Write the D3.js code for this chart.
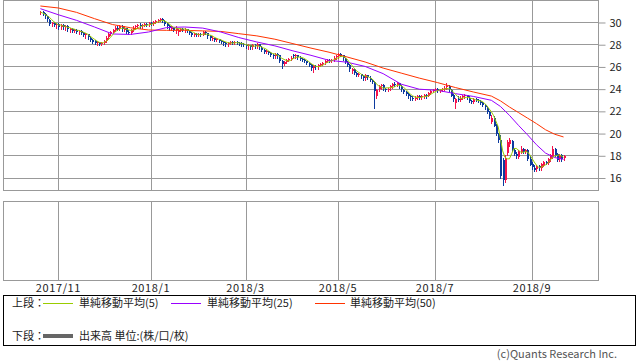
<!DOCTYPE html>
<html lang="ja">
<head>
<meta charset="utf-8">
<script src="https://cdn.jsdelivr.net/npm/d3@7"></script>
<style>
  body { margin: 0; background: #ffffff; }
  #contenedorGrafica { width: 638px; height: 362px; }
  text { font-family: "Noto Sans CJK JP", "Noto Sans", sans-serif; }
</style>
</head>
<body>
<div id="contenedorGrafica"></div>
<script>
// valores (un valor por sesion)
const aperturas = [
    30.8,30.9,30.7,30.5,30.2,29.8,29.9,29.7,29.8,29.5,
    29.7,29.5,29.6,29.3,29.4,29.2,29.3,29.1,29.2,29.0,
    28.8,28.9,28.6,28.4,28.3,28.1,28.2,28.0,28.1,28.3,
    28.6,28.9,29.1,29.3,29.5,29.4,29.6,29.3,29.5,29.1,
    29.0,29.3,29.5,29.6,29.7,29.6,29.7,29.8,29.7,29.9,
    29.8,30.0,30.1,30.2,30.3,30.1,29.8,29.6,29.4,29.5,
    29.3,29.1,29.3,29.4,29.3,29.4,29.2,29.0,28.8,28.9,
    28.8,28.9,28.8,29.1,29.0,28.7,28.5,28.6,28.4,28.5,
    28.3,28.2,28.1,28.0,28.1,28.2,28.1,28.2,28.1,28.1,
    28.0,27.9,27.8,27.9,27.7,27.9,27.8,28.0,27.7,27.5,
    27.3,27.4,27.2,27.0,26.9,27.1,27.0,26.5,26.2,26.4,
    26.6,26.7,27.0,26.9,27.0,26.8,26.7,26.6,26.5,26.3,
    26.1,25.8,26.0,25.9,26.1,26.2,26.3,26.5,26.6,26.5,
    26.6,26.8,26.9,27.1,27.0,26.7,26.4,26.1,25.6,25.8,
    25.4,25.2,25.3,25.1,24.9,25.2,25.0,24.8,24.6,23.4,
    23.9,24.2,24.3,24.0,23.9,24.0,24.2,24.4,24.3,24.5,
    24.2,23.9,23.7,23.5,23.3,23.2,23.1,23.2,23.3,23.2,
    23.3,23.4,23.3,23.6,23.8,23.9,24.0,23.8,23.9,24.0,
    24.1,24.2,23.9,23.4,22.7,23.1,23.0,23.2,23.3,23.4,
    23.2,22.9,22.8,23.1,23.0,22.9,22.7,22.5,22.3,21.9,
    21.0,21.4,20.7,19.9,19.4,17.6,15.8,18.2,19.0,19.3,
    18.5,18.1,17.9,18.3,18.6,18.3,18.5,17.7,17.2,16.9,
    16.7,17.0,16.8,17.1,17.4,17.3,17.6,17.9,18.6,18.1,
    17.6,18.0,17.7
];
const maximos = [
    31.0,31.0,30.8,30.5,30.3,30.0,30.0,29.9,29.9,29.8,
    29.8,29.7,29.7,29.5,29.5,29.4,29.4,29.3,29.3,29.1,
    29.0,28.9,28.7,28.5,28.4,28.3,28.2,28.2,28.4,28.7,
    29.0,29.2,29.4,29.6,29.6,29.7,29.7,29.6,29.5,29.3,
    29.4,29.6,29.7,29.8,29.9,29.8,29.9,29.9,30.0,30.0,
    30.1,30.2,30.3,30.4,30.4,30.2,29.9,29.7,29.6,29.5,
    29.6,29.4,29.5,29.5,29.5,29.4,29.3,29.1,29.0,29.0,
    29.0,29.0,29.2,29.2,29.0,28.8,28.7,28.6,28.6,28.5,
    28.4,28.3,28.2,28.2,28.3,28.3,28.3,28.3,28.2,28.2,
    28.1,28.0,28.0,27.9,28.0,28.0,28.1,28.0,27.8,27.6,
    27.5,27.4,27.3,27.1,27.2,27.2,27.0,26.6,26.5,26.7,
    26.8,26.9,27.1,27.1,27.0,26.9,26.8,26.7,26.5,26.4,
    26.2,26.1,26.1,26.2,26.3,26.4,26.6,26.7,26.7,26.7,
    26.9,27.0,27.2,27.2,27.0,26.8,26.5,26.2,25.9,25.8,
    25.5,25.4,25.3,25.2,25.3,25.2,25.1,24.9,24.7,24.0,
    24.3,24.4,24.4,24.1,24.1,24.3,24.5,24.6,24.6,24.5,
    24.3,24.0,23.8,23.6,23.4,23.3,23.3,23.4,23.4,23.4,
    23.5,23.5,23.7,23.9,24.0,24.1,24.1,24.0,24.1,24.2,
    24.5,24.3,24.0,23.5,23.2,23.3,23.3,23.4,23.5,23.4,
    23.3,23.0,23.2,23.2,23.1,23.0,22.8,22.6,22.4,22.0,
    21.6,21.5,20.8,20.0,19.8,17.8,18.0,19.4,19.6,19.4,
    18.7,18.3,18.5,18.8,18.7,18.6,18.6,17.9,17.4,17.1,
    17.1,17.1,17.3,17.5,17.5,17.8,18.1,18.8,18.7,18.2,
    18.1,18.1,18.0
];
const minimos = [
    30.7,30.6,30.4,30.1,29.7,29.6,29.6,29.5,29.4,29.4,
    29.4,29.3,29.2,29.1,29.1,29.1,29.0,28.9,28.9,28.7,
    28.6,28.5,28.3,28.1,28.0,27.9,27.9,27.9,28.0,28.2,
    28.5,28.8,29.0,29.2,29.3,29.3,29.2,29.2,29.0,28.9,
    28.9,29.2,29.4,29.5,29.5,29.5,29.6,29.6,29.6,29.7,
    29.7,29.9,30.0,30.1,30.0,29.7,29.5,29.3,29.3,29.2,
    29.0,28.8,29.2,29.2,29.1,29.1,28.9,28.7,28.7,28.7,
    28.7,28.7,28.8,28.9,28.6,28.4,28.4,28.3,28.3,28.2,
    28.1,27.9,27.8,27.8,28.0,28.0,28.0,28.0,27.9,27.8,
    27.8,27.7,27.6,27.6,27.6,27.7,27.7,27.6,27.4,27.2,
    27.2,27.1,26.9,26.8,26.8,26.8,26.4,25.9,26.1,26.3,
    26.5,26.6,26.8,26.8,26.7,26.6,26.5,26.4,26.2,26.0,
    25.7,25.5,25.8,25.8,26.0,26.1,26.2,26.4,26.4,26.4,
    26.5,26.7,26.8,26.9,26.6,26.3,26.0,25.6,25.4,25.3,
    25.1,25.1,25.0,24.8,24.8,24.9,24.7,24.5,22.3,23.2,
    23.8,24.0,23.9,23.8,23.8,23.9,24.1,24.2,24.2,24.1,
    23.8,23.6,23.4,23.2,23.0,23.0,23.0,23.1,23.1,23.1,
    23.2,23.2,23.3,23.5,23.7,23.8,23.7,23.7,23.8,23.9,
    24.0,23.8,23.3,22.9,22.3,22.9,22.9,23.1,23.2,23.1,
    22.8,22.7,22.7,22.9,22.8,22.6,22.4,22.2,21.8,21.4,
    20.9,20.6,19.8,19.2,16.0,15.3,15.6,18.0,18.8,18.4,
    18.0,17.8,17.8,18.2,18.2,18.2,17.6,17.1,16.8,16.6,
    16.6,16.7,16.7,17.0,17.2,17.2,17.5,17.8,17.9,17.5,
    17.5,17.5,17.6
];
const cierres = [
    30.9,30.7,30.5,30.2,29.8,29.9,29.7,29.8,29.5,29.7,
    29.5,29.6,29.3,29.4,29.2,29.3,29.1,29.2,29.0,28.8,
    28.9,28.6,28.4,28.2,28.1,28.2,28.0,28.1,28.3,28.6,
    28.9,29.1,29.3,29.5,29.4,29.6,29.3,29.5,29.1,29.0,
    29.3,29.5,29.6,29.7,29.6,29.7,29.8,29.7,29.9,29.8,
    30.0,30.1,30.2,30.3,30.1,29.8,29.6,29.4,29.5,29.3,
    29.5,29.3,29.4,29.3,29.4,29.2,29.0,28.8,28.9,28.8,
    28.9,28.8,29.1,29.0,28.7,28.5,28.6,28.4,28.5,28.3,
    28.2,28.1,28.0,28.1,28.2,28.1,28.2,28.1,28.0,28.0,
    27.9,27.8,27.9,27.7,27.9,27.8,28.0,27.7,27.5,27.3,
    27.4,27.2,27.0,26.9,27.1,27.0,26.5,26.2,26.4,26.6,
    26.7,26.8,26.9,27.0,26.8,26.7,26.6,26.5,26.3,26.1,
    25.8,26.0,25.9,26.1,26.2,26.3,26.5,26.6,26.5,26.6,
    26.8,26.9,27.1,27.0,26.7,26.4,26.1,25.7,25.8,25.4,
    25.2,25.3,25.1,24.9,25.2,25.0,24.8,24.6,23.8,23.9,
    24.2,24.3,24.0,23.9,24.0,24.2,24.4,24.3,24.5,24.2,
    23.9,23.7,23.5,23.3,23.2,23.1,23.2,23.3,23.2,23.3,
    23.4,23.3,23.6,23.8,23.9,24.0,23.8,23.9,24.0,24.1,
    24.2,23.9,23.4,23.0,23.1,23.0,23.2,23.3,23.4,23.2,
    22.9,22.8,23.1,23.0,22.9,22.7,22.5,22.3,21.9,21.5,
    21.4,20.7,19.9,19.4,16.2,15.8,17.8,19.2,19.4,18.5,
    18.1,17.9,18.4,18.6,18.3,18.5,17.7,17.2,16.9,16.7,
    17.0,16.8,17.2,17.4,17.3,17.7,18.0,18.6,18.0,17.6,
    18.0,17.6,17.9
];

// medias de 25 y 50 sesiones (vienen de datos anteriores al inicio)
const diasMedia = [0, 8, 16, 24, 32, 40, 48, 56, 64, 72, 80, 88, 96, 104, 112, 120, 128, 136,
    144, 152, 160, 168, 176, 184, 192, 200, 204, 208, 212, 216, 220, 224, 228, 232];
const media25 = [31.2, 30.65, 30.15, 29.55, 28.92, 28.88, 29.1, 29.5, 29.55, 29.45, 29.1, 28.6,
    28.2, 27.85, 27.4, 27.0, 26.55, 26.38, 26.0, 25.35, 24.4, 23.95, 23.85, 23.55, 23.3, 22.95,
    22.4, 21.6, 20.7, 19.85, 18.95, 18.2, 17.8, 17.63];
const media50 = [31.44, 31.26, 30.87, 30.3, 29.77, 29.48, 29.28, 29.25, 29.25, 29.2, 29.15, 28.95,
    28.75, 28.45, 28.05, 27.65, 27.28, 26.85, 26.4, 25.85, 25.4, 24.95, 24.55, 24.1, 23.7, 23.33,
    22.9, 22.35, 21.85, 21.35, 20.85, 20.3, 19.9, 19.65];

const diasMes = [8, 49, 91, 132, 175, 218];
const etiquetasMes = ["2017/11", "2018/1", "2018/3", "2018/5", "2018/7", "2018/9"];
const preciosEje = [16, 18, 20, 22, 24, 26, 28, 30];

const grafica = () => {
    const ancho = 638, alto = 362;
    const izquierda = 3, derecha = 598;
    const arribaSup = 0, abajoSup = 190;
    const arribaInf = 201, abajoInf = 280;
    const paso = 2.255, primerCentro = 40.38;
    const gris = "#999999";
    const rojo = "#f5124c", azul = "#0c3a9e";
    const verde = "#99cc00", morado = "#9900ff", naranja = "#ff3300";
    const nitido = v => Math.round(v) + 0.5;

    const $svg = d3.select("#contenedorGrafica")
        .append("svg")
        .attr("width", ancho)
        .attr("height", alto);

    const dias = d3.range(cierres.length);
    const x = d3.scaleBand()
        .domain(dias)
        .range([primerCentro - paso / 2, primerCentro - paso / 2 + paso * dias.length]);
    const centro = i => x(i) + x.bandwidth() / 2;

    const y = d3.scaleLinear()
        .domain([14.875, 31.98])
        .range([abajoSup, arribaSup]);

    // rejilla del panel superior
    $svg.append("g")
        .selectAll("line")
        .data(preciosEje)
        .join("line")
        .attr("x1", izquierda).attr("x2", derecha)
        .attr("y1", d => nitido(y(d))).attr("y2", d => nitido(y(d)))
        .attr("stroke", gris);

    [[arribaSup, abajoSup], [arribaInf, abajoInf]].forEach(([a, b]) => {
        $svg.append("g")
            .selectAll("line")
            .data(diasMes)
            .join("line")
            .attr("x1", d => nitido(centro(d))).attr("x2", d => nitido(centro(d)))
            .attr("y1", a).attr("y2", b)
            .attr("stroke", gris);
        $svg.append("rect")
            .attr("x", izquierda + 0.5).attr("y", a + 0.5)
            .attr("width", derecha - izquierda).attr("height", b - a)
            .attr("fill", "none")
            .attr("stroke", gris);
    });

    // eje de precios a la derecha
    $svg.append("g")
        .attr("transform", `translate(${derecha + 0.5},0.5)`)
        .call(d3.axisRight(y).tickValues(preciosEje).tickSize(7).tickPadding(4))
        .call(g => g.select(".domain").remove())
        .call(g => g.selectAll(".tick line").attr("stroke", gris))
        .call(g => g.selectAll(".tick text")
            .attr("fill", "#222")
            .attr("font-size", 11)
            .attr("font-family", "Noto Sans CJK JP"));

    // velas
    const velas = $svg.append("g").attr("shape-rendering", "crispEdges");
    velas.selectAll("line")
        .data(dias)
        .join("line")
        .attr("x1", i => nitido(centro(i))).attr("x2", i => nitido(centro(i)))
        .attr("y1", i => Math.round(y(maximos[i]))).attr("y2", i => Math.round(y(minimos[i])) + 1)
        .attr("stroke", i => cierres[i] >= aperturas[i] ? rojo : azul);
    velas.selectAll("rect")
        .data(dias)
        .join("rect")
        .attr("x", i => Math.round(centro(i)))
        .attr("width", 2)
        .attr("y", i => Math.round(y(Math.max(aperturas[i], cierres[i]))))
        .attr("height", i => Math.max(1, Math.round(Math.abs(y(aperturas[i]) - y(cierres[i])))))
        .attr("fill", i => cierres[i] >= aperturas[i] ? rojo : azul);

    // medias moviles
    const media5 = cierres.map((c, i) => d3.mean(cierres.slice(Math.max(0, i - 4), i + 1)));
    const linea = d3.line().x(d => centro(d[0])).y(d => y(d[1]));

    $svg.append("path")
        .attr("d", linea(diasMedia.map((d, k) => [d, media50[k]])))
        .attr("fill", "none").attr("stroke", naranja).attr("stroke-width", 1);
    $svg.append("path")
        .attr("d", linea(diasMedia.map((d, k) => [d, media25[k]])))
        .attr("fill", "none").attr("stroke", morado).attr("stroke-width", 1);
    $svg.append("path")
        .attr("d", linea(dias.map(i => [i, media5[i]])))
        .attr("fill", "none").attr("stroke", verde).attr("stroke-width", 1);

    // etiquetas de meses
    $svg.append("g")
        .selectAll("text")
        .data(diasMes)
        .join("text")
        .attr("x", d => centro(d))
        .attr("y", 292)
        .attr("text-anchor", "middle")
        .attr("font-size", 11)
        .attr("letter-spacing", 0.6)
        .attr("fill", "#222")
        .text((d, k) => etiquetasMes[k]);

    // leyenda
    $svg.append("rect")
        .attr("x", izquierda + 0.5).attr("y", 295.5)
        .attr("width", 632).attr("height", 50)
        .attr("fill", "none")
        .attr("stroke", "#000");

    const textoLeyenda = (tx, ty, texto) => $svg.append("text")
        .attr("x", tx).attr("y", ty)
        .attr("font-size", 11)
        .attr("fill", "#222")
        .text(texto);
    const lineaLeyenda = (x1, ly, color, grosor) => $svg.append("line")
        .attr("x1", x1).attr("x2", x1 + 30)
        .attr("y1", ly).attr("y2", ly)
        .attr("stroke", color)
        .attr("stroke-width", grosor);

    textoLeyenda(12, 307, "上段：");
    lineaLeyenda(43, 303.5, verde, 1);
    textoLeyenda(79, 307, "単純移動平均(5)");
    lineaLeyenda(171, 303.5, morado, 1);
    textoLeyenda(207, 307, "単純移動平均(25)");
    lineaLeyenda(315, 303.5, naranja, 1);
    textoLeyenda(350, 307, "単純移動平均(50)");

    textoLeyenda(12, 340, "下段：");
    lineaLeyenda(43, 336, "#666666", 4);
    textoLeyenda(79, 340, "出来高 単位:(株/口/枚)");

    $svg.append("text")
        .attr("x", 617).attr("y", 358)
        .attr("text-anchor", "end")
        .attr("font-size", 11)
        .attr("fill", "#555")
        .text("(c)Quants Research Inc.");
};

grafica();
</script>
</body>
</html>
